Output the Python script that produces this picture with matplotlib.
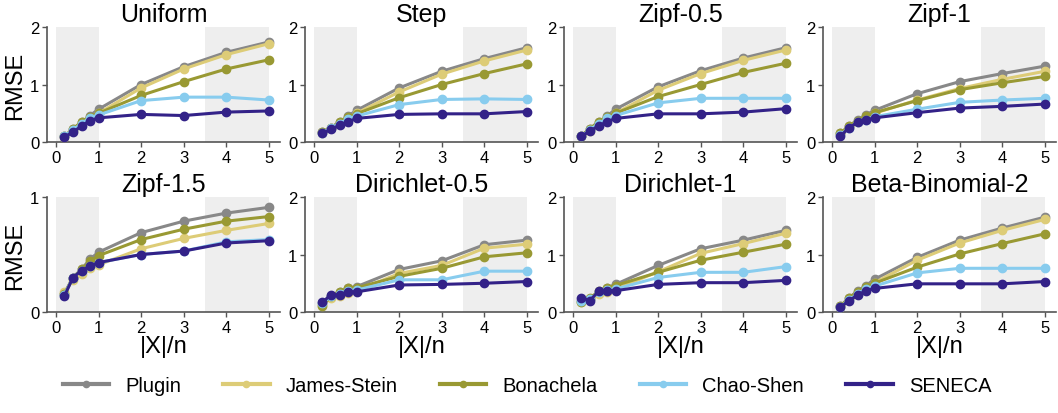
import matplotlib
matplotlib.use("Agg")
import matplotlib.pyplot as plt
import numpy as np

plt.rcParams['font.family'] = ['Liberation Sans', 'DejaVu Sans']

x_vals = [0.2, 0.4, 0.6, 0.8, 1, 2, 3, 4, 5]
methods = ["Plugin", "James-Stein", "Bonachela", "Chao-Shen", "SENECA"]
colors = ["#888888", "#DDCC77", "#999933", "#88CCEE", "#332288"]
titles = ["Uniform", "Step", "Zipf-0.5", "Zipf-1",
          "Zipf-1.5", "Dirichlet-0.5", "Dirichlet-1", "Beta-Binomial-2"]
y_max = [2, 2, 2, 2, 1, 2, 2, 2]

uniform_plugin = [0.10, 0.22, 0.34, 0.46, 0.57, 1.00, 1.31, 1.56, 1.74]
uniform_js     = [0.09, 0.20, 0.31, 0.42, 0.50, 0.94, 1.27, 1.52, 1.71]
uniform_bona   = [0.10, 0.23, 0.35, 0.44, 0.50, 0.81, 1.05, 1.27, 1.43]
uniform_chao   = [0.10, 0.21, 0.32, 0.42, 0.47, 0.72, 0.78, 0.78, 0.73]
uniform_seneca = [0.09, 0.17, 0.28, 0.37, 0.42, 0.48, 0.46, 0.52, 0.54]

step_plugin = [0.17, 0.25, 0.35, 0.45, 0.55, 0.94, 1.23, 1.45, 1.64]
step_js     = [0.16, 0.24, 0.31, 0.41, 0.50, 0.87, 1.18, 1.41, 1.60]
step_bona   = [0.17, 0.25, 0.34, 0.43, 0.49, 0.77, 1.00, 1.19, 1.36]
step_chao   = [0.16, 0.24, 0.32, 0.40, 0.45, 0.65, 0.74, 0.75, 0.74]
step_seneca = [0.15, 0.22, 0.29, 0.35, 0.41, 0.48, 0.49, 0.49, 0.53]

zipf05_plugin = [0.11, 0.23, 0.35, 0.45, 0.57, 0.96, 1.24, 1.46, 1.64]
zipf05_js     = [0.10, 0.20, 0.31, 0.41, 0.50, 0.90, 1.19, 1.42, 1.60]
zipf05_bona   = [0.11, 0.23, 0.35, 0.43, 0.50, 0.79, 1.00, 1.21, 1.37]
zipf05_chao   = [0.10, 0.21, 0.32, 0.41, 0.46, 0.68, 0.76, 0.76, 0.76]
zipf05_seneca = [0.10, 0.19, 0.28, 0.35, 0.41, 0.49, 0.49, 0.52, 0.58]

zipf1_plugin = [0.15, 0.28, 0.38, 0.47, 0.55, 0.84, 1.05, 1.19, 1.32]
zipf1_js     = [0.14, 0.26, 0.35, 0.43, 0.50, 0.73, 0.93, 1.09, 1.23]
zipf1_bona   = [0.15, 0.28, 0.37, 0.45, 0.51, 0.72, 0.91, 1.03, 1.14]
zipf1_chao   = [0.12, 0.25, 0.34, 0.39, 0.44, 0.57, 0.69, 0.73, 0.76]
zipf1_seneca = [0.10, 0.25, 0.34, 0.38, 0.42, 0.51, 0.59, 0.62, 0.66]

zipf15_plugin = [0.16, 0.30, 0.37, 0.46, 0.52, 0.69, 0.79, 0.86, 0.91]
zipf15_js     = [0.17, 0.28, 0.33, 0.38, 0.41, 0.55, 0.64, 0.71, 0.77]
zipf15_bona   = [0.16, 0.30, 0.37, 0.44, 0.49, 0.63, 0.72, 0.79, 0.83]
zipf15_chao   = [0.15, 0.30, 0.36, 0.40, 0.43, 0.50, 0.53, 0.61, 0.63]
zipf15_seneca = [0.14, 0.30, 0.36, 0.40, 0.43, 0.50, 0.53, 0.60, 0.62]

dir05_plugin = [0.15, 0.28, 0.35, 0.41, 0.44, 0.74, 0.89, 1.17, 1.25]
dir05_js     = [0.13, 0.25, 0.28, 0.33, 0.37, 0.67, 0.81, 1.11, 1.18]
dir05_bona   = [0.11, 0.27, 0.35, 0.41, 0.42, 0.62, 0.76, 0.96, 1.03]
dir05_chao   = [0.15, 0.28, 0.32, 0.37, 0.38, 0.56, 0.56, 0.71, 0.71]
dir05_seneca = [0.17, 0.30, 0.30, 0.35, 0.35, 0.47, 0.48, 0.50, 0.53]

dir1_plugin = [0.20, 0.22, 0.35, 0.42, 0.48, 0.81, 1.10, 1.25, 1.42]
dir1_js     = [0.17, 0.22, 0.32, 0.34, 0.40, 0.70, 1.02, 1.19, 1.37]
dir1_bona   = [0.18, 0.24, 0.36, 0.42, 0.46, 0.69, 0.90, 1.04, 1.18]
dir1_chao   = [0.20, 0.22, 0.34, 0.38, 0.40, 0.60, 0.69, 0.69, 0.79]
dir1_seneca = [0.25, 0.20, 0.36, 0.37, 0.37, 0.48, 0.51, 0.51, 0.55]

bb2_plugin = [0.10, 0.25, 0.36, 0.46, 0.57, 0.95, 1.25, 1.46, 1.65]
bb2_js     = [0.09, 0.22, 0.32, 0.42, 0.51, 0.90, 1.20, 1.42, 1.61]
bb2_bona   = [0.10, 0.24, 0.35, 0.44, 0.50, 0.78, 1.01, 1.19, 1.36]
bb2_chao   = [0.09, 0.21, 0.31, 0.40, 0.45, 0.68, 0.76, 0.76, 0.76]
bb2_seneca = [0.08, 0.20, 0.29, 0.37, 0.41, 0.49, 0.49, 0.49, 0.53]

panels = [
    [uniform_plugin, uniform_js, uniform_bona, uniform_chao, uniform_seneca],
    [step_plugin, step_js, step_bona, step_chao, step_seneca],
    [zipf05_plugin, zipf05_js, zipf05_bona, zipf05_chao, zipf05_seneca],
    [zipf1_plugin, zipf1_js, zipf1_bona, zipf1_chao, zipf1_seneca],
    [zipf15_plugin, zipf15_js, zipf15_bona, zipf15_chao, zipf15_seneca],
    [dir05_plugin, dir05_js, dir05_bona, dir05_chao, dir05_seneca],
    [dir1_plugin, dir1_js, dir1_bona, dir1_chao, dir1_seneca],
    [bb2_plugin, bb2_js, bb2_bona, bb2_chao, bb2_seneca],
]

W, H = 1058, 414
fig = plt.figure(figsize=(W / 100, H / 100), dpi=100)

lefts = [47, 305, 564, 823]
ax_w = 233
row_tops = [28, 198]
ax_h = 115

spine_col = "#555555"
for i, (title, series, ym) in enumerate(zip(titles, panels, y_max)):
    r, c = divmod(i, 4)
    ax = fig.add_axes([lefts[c] / W, 1 - (row_tops[r] + ax_h) / H, ax_w / W, ax_h / H])
    ax.axvspan(0, 1, color="#eeeeee", lw=0, zorder=0)
    ax.axvspan(3.5, 5, color="#eeeeee", lw=0, zorder=0)
    for m, vals, col in zip(methods, series, colors):
        ax.plot(x_vals, vals, color=col, lw=2.2, marker="o", ms=6,
                mec=col, mfc=col, label=m, clip_on=False, zorder=3)
    ax.set_xlim(-0.21, 5.26)
    ax.set_ylim(0, ym)
    ax.set_xticks([0, 1, 2, 3, 4, 5])
    ax.set_yticks([0, 1, 2] if ym == 2 else [0, 1])
    for s in ["top", "right"]:
        ax.spines[s].set_visible(False)
    for s in ["left", "bottom"]:
        ax.spines[s].set_color(spine_col)
        ax.spines[s].set_linewidth(1.2)
    ax.tick_params(direction="out", length=3.5, width=1.0, color=spine_col,
                   labelsize=12, pad=2)
    ax.set_title(title, fontsize=18, pad=4)
    if c == 0:
        ax.set_ylabel("RMSE", fontsize=17, labelpad=3)
    if r == 1:
        ax.set_xlabel("|X|/n", fontsize=17, labelpad=0)

leg_handles = []
for m, col in zip(methods, colors):
    leg_handles.append(plt.Line2D([], [], color=col, lw=3, marker="o", ms=4.5, label=m))
fig.legend(handles=leg_handles, loc="center", bbox_to_anchor=(527 / W, 1 - 387 / H),
           ncol=5, frameon=False, fontsize=14.5, handlelength=2.3, handletextpad=0.8,
           columnspacing=2.1)

fig.savefig("out.png", dpi=100)
